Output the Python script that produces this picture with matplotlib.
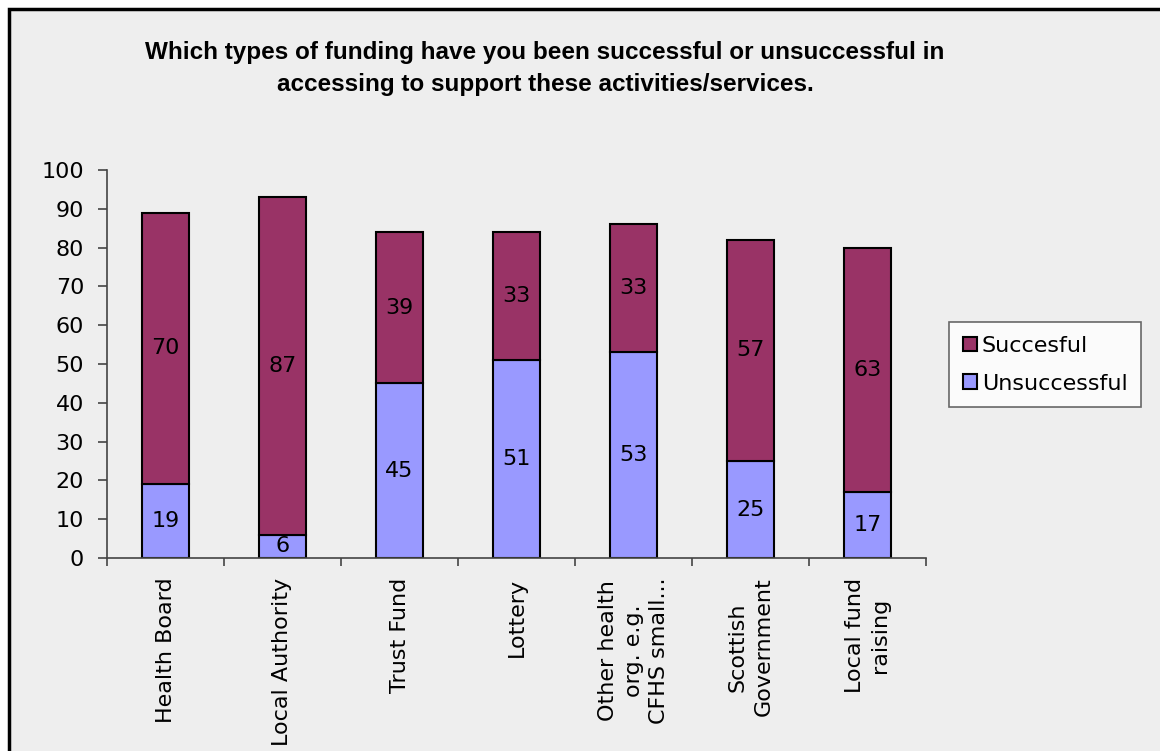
import matplotlib
matplotlib.use("Agg")
from matplotlib import pyplot as plt
from matplotlib.patches import Rectangle

categorias = ['Health Board', 'Local Authority', 'Trust Fund', 'Lottery',
              'Other health\norg. e.g.\nCFHS small...', 'Scottish\nGovernment',
              'Local fund\nraising']
sem_sucesso = [19, 6, 45, 51, 53, 25, 17]
com_sucesso = [70, 87, 39, 33, 33, 57, 63]

plt.rcParams['font.family'] = ['DejaVu Sans']

fig = plt.figure(figsize=(11.6, 7.51), dpi=100)
fig.patch.set_facecolor('white')
# fundo cinza com a moldura preta
fig.patches.append(Rectangle((9 / 1160, -0.1), 1.2, 1 - 8.5 / 751 + 0.1,
                             transform=fig.transFigure, facecolor='#eeeeee',
                             edgecolor='black', linewidth=2.5, zorder=-1))

ax = fig.add_axes([107 / 1160, 1 - 558 / 751, (926 - 107) / 1160, (558 - 170) / 751])
ax.set_facecolor('none')

x = range(len(categorias))
b1 = ax.bar(x, sem_sucesso, width=0.41, color='#9999ff', edgecolor='black',
            linewidth=1.5, label='Unsuccessful')
b2 = ax.bar(x, com_sucesso, width=0.41, bottom=sem_sucesso, color='#993366',
            edgecolor='black', linewidth=1.5, label='Succesful')
ax.bar_label(b1, label_type='center', fontsize=16)
ax.bar_label(b2, label_type='center', fontsize=16)

ax.set_xlim(-0.5, len(categorias) - 0.5)
ax.set_ylim(0, 100)
ax.set_yticks(range(0, 101, 10))
ax.set_xticks([i - 0.5 for i in range(len(categorias) + 1)])
ax.set_xticklabels([])
ax.set_xticks(list(x), categorias, minor=True, rotation=90,
              multialignment='center', va='top', ha='center', linespacing=1.35)
ax.tick_params(axis='x', which='minor', length=0, pad=14, labelsize=16)
ax.tick_params(axis='x', which='major', length=6, width=1.2, color='#444444')
ax.tick_params(axis='y', length=6.5, width=1.2, color='#444444', labelsize=16, pad=10)
for s in ['top', 'right']:
    ax.spines[s].set_visible(False)
for s in ['left', 'bottom']:
    ax.spines[s].set_color('#444444')
    ax.spines[s].set_linewidth(1.2)

fig.text(545 / 1160, 1 - 69 / 751,
         'Which types of funding have you been successful or unsuccessful in\n'
         'accessing to support these activities/services.',
         ha='center', va='center', fontsize=17.5, fontweight='bold',
         family='Liberation Sans', linespacing=1.5)

h, l = ax.get_legend_handles_labels()
leg = fig.legend(h[::-1], l[::-1], loc='upper left',
                 bbox_to_anchor=(949 / 1160, 1 - 322 / 751), fontsize=16,
                 frameon=True, fancybox=False, edgecolor='#444444',
                 handlelength=0.65, handleheight=0.65, handletextpad=0.2,
                 labelspacing=0.8, borderpad=0.62, borderaxespad=0)
leg.get_frame().set_linewidth(1.2)

plt.savefig('out.png', dpi=100)
plt.close()
